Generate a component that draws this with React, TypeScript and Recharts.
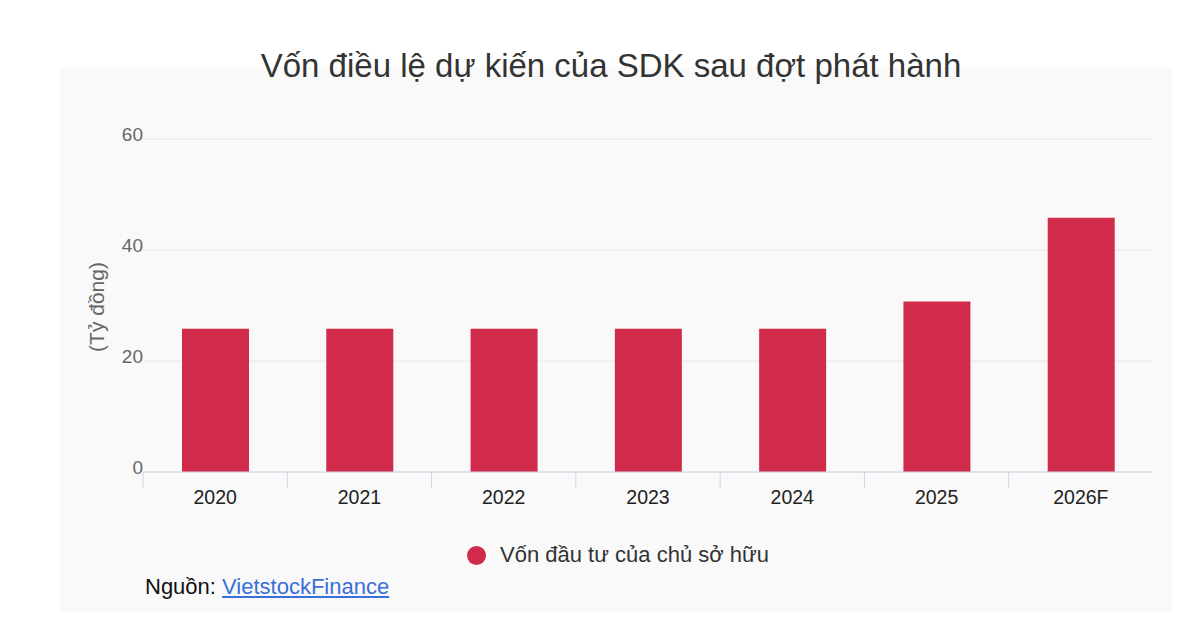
import React from 'react'
import { BarChart, Bar, XAxis, YAxis, CartesianGrid } from 'recharts'

const years = ['2020', '2021', '2022', '2023', '2024', '2025', '2026F']
const ownerCapital = [25.8, 25.8, 25.8, 25.8, 25.8, 30.7, 45.8]
const yTicks = [0, 20, 40, 60]

const seriesName = 'Vốn đầu tư của chủ sở hữu'
const barColor = '#d02b4b'
const font = '"Liberation Sans", Arial, sans-serif'

const chartData = years.map((year, i) => ({ year, value: ownerCapital[i] }))

const CHART_W = 1112
const MARGIN = { top: 72, right: 19, bottom: 5, left: 23 }
const BAND = (CHART_W - MARGIN.left - MARGIN.right - 60) / years.length

function YTick(props: any) {
  const { x, y, payload } = props
  return (
    <text x={x} y={y + 2} textAnchor="end" fill="#666" fontSize={19} fontFamily={font}>
      {payload.value}
    </text>
  )
}

function XTick(props: any) {
  const { x, y, payload } = props
  const left = x - BAND / 2
  return (
    <g>
      <line x1={left} x2={left} y1={y} y2={y + 16} stroke="#ccd6eb" strokeWidth={1} />
      <text x={x} y={y + 32} textAnchor="middle" fill="#222" fontSize={19.5} fontFamily={font}>
        {payload.value}
      </text>
    </g>
  )
}

export default function App() {
  return (
    <div style={{ position: 'absolute', top: 0, left: 0, width: 1200, height: 640, background: '#fff', fontFamily: font }}>
      <div
        style={{
          position: 'absolute',
          left: 60,
          top: 67,
          width: CHART_W,
          height: 545,
          background: '#f9f9f9',
        }}
      >
        <BarChart width={CHART_W} height={440} data={chartData} margin={MARGIN}>
          <CartesianGrid vertical={false} stroke="#e6e6e6" />
          <XAxis
            dataKey="year"
            height={30}
            tickLine={false}
            tickSize={0}
            tickMargin={0}
            axisLine={{ stroke: '#ccd6eb' }}
            tick={<XTick />}
            interval={0}
          />
          <YAxis
            width={60}
            domain={[0, 60]}
            ticks={yTicks}
            axisLine={false}
            tickLine={false}
            tickSize={0}
            tickMargin={0}
            tick={<YTick />}
          />
          <Bar dataKey="value" name={seriesName} fill={barColor} barSize={67} isAnimationActive={false} />
        </BarChart>

        <div
          style={{
            position: 'absolute',
            left: 37 - 70,
            top: 240,
            width: 140,
            textAlign: 'center',
            transform: 'translate(0, -50%) rotate(-90deg)',
            color: '#666',
            fontSize: 21,
            lineHeight: '24px',
            whiteSpace: 'nowrap',
          }}
        >
          (Tỷ đồng)
        </div>

        <div
          style={{
            position: 'absolute',
            left: 0,
            top: 475,
            width: CHART_W + 4,
            display: 'flex',
            justifyContent: 'center',
            alignItems: 'center',
            fontSize: 22,
            color: '#333',
            lineHeight: '26px',
          }}
        >
          <span
            style={{
              display: 'inline-block',
              width: 19,
              height: 19,
              borderRadius: '50%',
              background: barColor,
              marginRight: 14,
            }}
          />
          <span>{seriesName}</span>
        </div>

        <div
          style={{
            position: 'absolute',
            left: 85,
            top: 507,
            fontSize: 22,
            color: '#111',
            lineHeight: '26px',
          }}
        >
          Nguồn: <span style={{ color: '#3a6fd8', textDecoration: 'underline' }}>VietstockFinance</span>
        </div>
      </div>

      <div
        style={{
          position: 'absolute',
          left: 0,
          top: 49,
          width: 1222,
          textAlign: 'center',
          fontSize: 33,
          lineHeight: '33px',
          color: '#333',
        }}
      >
        Vốn điều lệ dự kiến của SDK sau đợt phát hành
      </div>
    </div>
  )
}
